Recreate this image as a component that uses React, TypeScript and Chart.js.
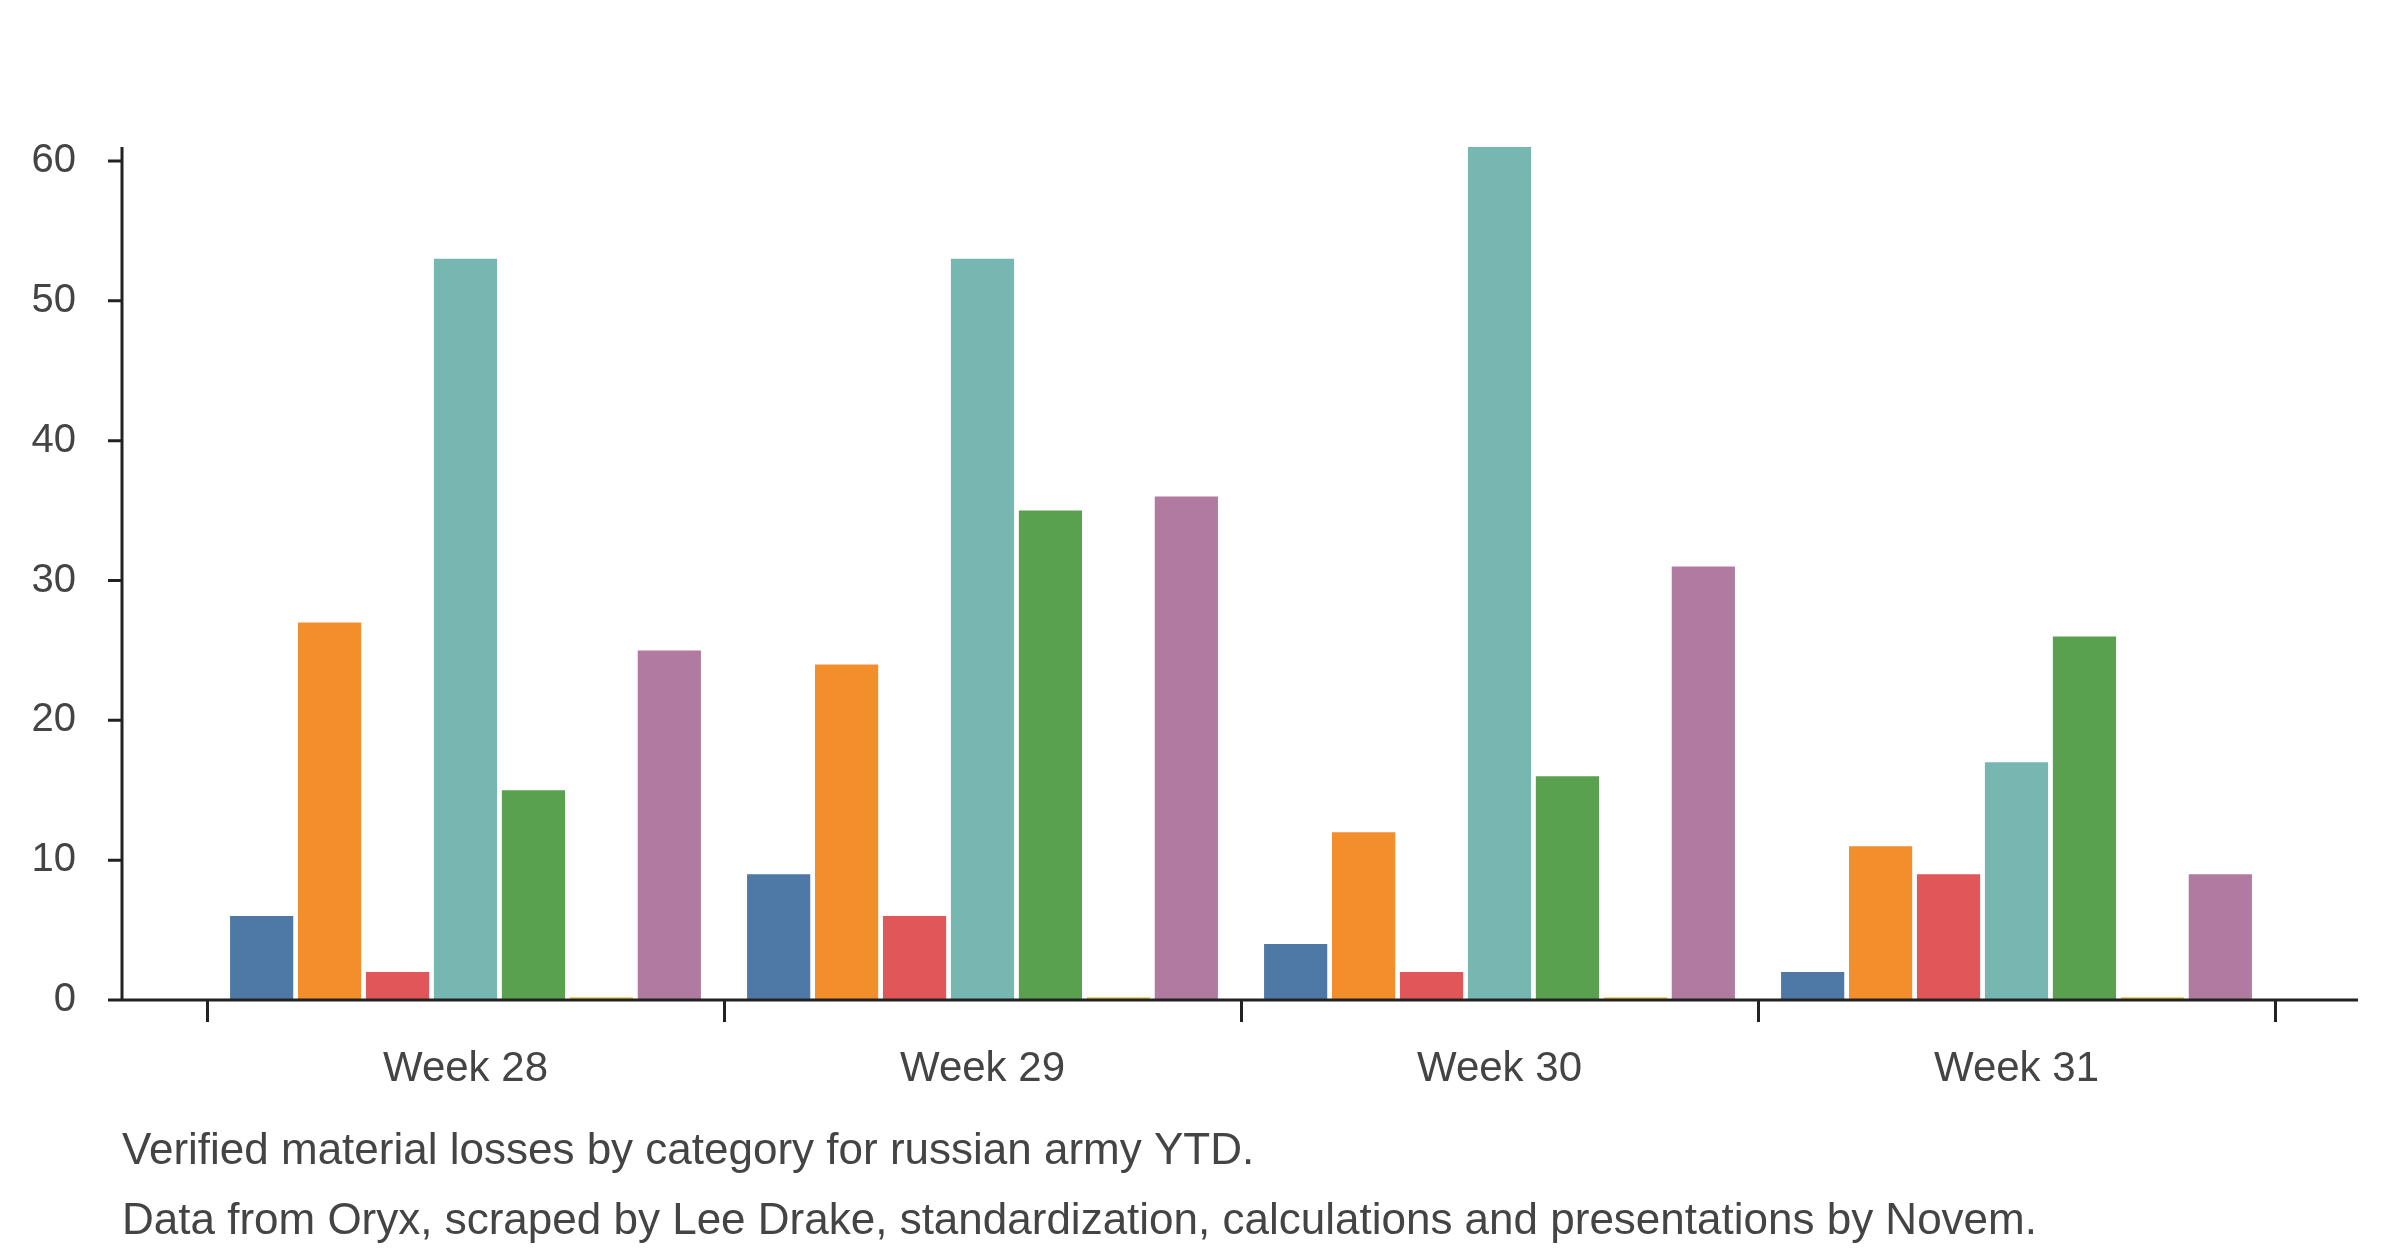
import React, { useEffect, useRef } from "react";
import { Chart, registerables } from "chart.js";
Chart.register(...registerables);

const weeks = ["Week 28", "Week 29", "Week 30", "Week 31"];
const seriesColors = ["#4e79a7", "#f28e2b", "#e15759", "#76b7b2", "#59a14f", "#edc948", "#b07aa1"];
const s1 = [6, 9, 4, 2];
const s2 = [27, 24, 12, 11];
const s3 = [2, 6, 2, 9];
const s4 = [53, 53, 61, 17];
const s5 = [15, 35, 16, 26];
const s6 = [0.2, 0.2, 0.2, 0.2];
const s7 = [25, 36, 31, 9];
const series = [s1, s2, s3, s4, s5, s6, s7];
const yTicks = [0, 10, 20, 30, 40, 50, 60];
const captions = [
  "Verified material losses by category for russian army YTD.",
  "Data from Oryx, scraped by Lee Drake, standardization, calculations and presentations by Novem.",
];

export default function App() {
  const ref = useRef<HTMLCanvasElement>(null);
  useEffect(() => {
    document.body.style.margin = "0";
    const font = "'Liberation Sans', Arial, sans-serif";
    const axisX = 122, axisRight = 2358;
    const axesPlugin = {
      id: "axes",
      afterDraw(chart: any) {
        const c = chart.ctx;
        const y = chart.scales.y;
        const bottom = chart.chartArea.bottom;
        c.save();
        c.strokeStyle = "#222";
        c.lineWidth = 3;
        c.beginPath();
        c.moveTo(axisX, y.getPixelForValue(61));
        c.lineTo(axisX, bottom);
        c.lineTo(axisRight, bottom);
        yTicks.forEach((v) => {
          const py = y.getPixelForValue(v);
          c.moveTo(axisX - 14, py);
          c.lineTo(axisX, py);
        });
        c.stroke();
        c.fillStyle = "#444";
        c.font = `44px ${font}`;
        c.textBaseline = "middle";
        c.fillText(captions[0], 122, 1152);
        c.fillText(captions[1], 122, 1222);
        c.restore();
      },
    };
    const chart = new Chart(ref.current!, {
      type: "bar",
      data: {
        labels: weeks,
        datasets: series.map((s, i) => ({
          data: s,
          backgroundColor: seriesColors[i],
          borderWidth: 0,
          categoryPercentage: 0.92,
          barPercentage: 0.93,
        })),
      },
      plugins: [axesPlugin],
      options: {
        animation: false,
        responsive: false,
        layout: { padding: { top: 49, right: 125, left: 0, bottom: 0 } },
        plugins: { legend: { display: false }, tooltip: { enabled: false } },
        scales: {
          x: {
            afterFit(scale: any) { scale.height = 256; },
            ticks: { maxRotation: 0, padding: 22, color: "#444", font: { size: 42, family: font } },
            grid: { offset: true, drawOnChartArea: false, tickLength: 22, lineWidth: 3, color: "#222" },
            border: { display: false },
          },
          y: {
            min: 0,
            max: 61,
            afterBuildTicks(scale: any) { scale.ticks = yTicks.map((v) => ({ value: v })); },
            afterFit(scale: any) { scale.width = 207; },
            ticks: { color: "#444", padding: 123, font: { size: 40, family: font } },
            grid: { display: false },
            border: { display: false },
          },
        },
      },
    } as any);
    return () => chart.destroy();
  }, []);
  return <canvas ref={ref} width={2400} height={1256} style={{ display: "block" }} />;
}
